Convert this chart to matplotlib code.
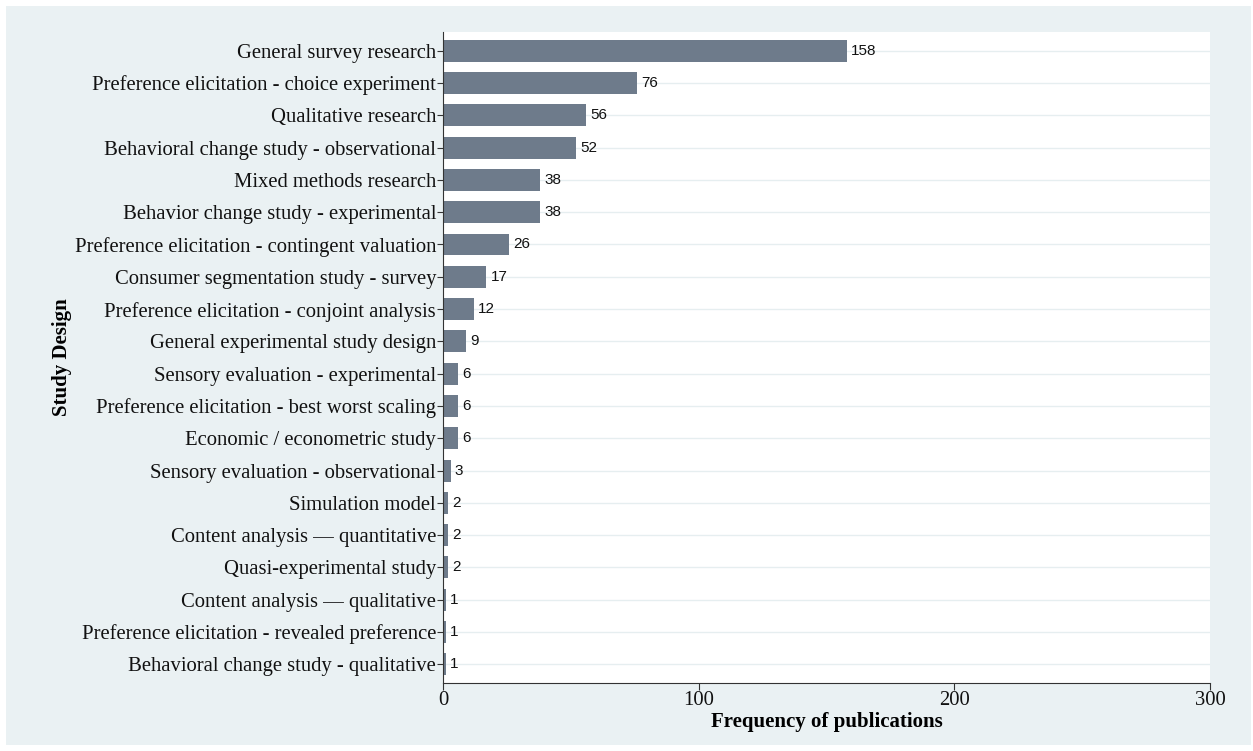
import matplotlib.pyplot as plt
import numpy as np
from matplotlib.patches import Rectangle

designs = [
    "General survey research",
    "Preference elicitation - choice experiment",
    "Qualitative research",
    "Behavioral change study - observational",
    "Mixed methods research",
    "Behavior change study - experimental",
    "Preference elicitation - contingent valuation",
    "Consumer segmentation study - survey",
    "Preference elicitation - conjoint analysis",
    "General experimental study design",
    "Sensory evaluation - experimental",
    "Preference elicitation - best worst scaling",
    "Economic / econometric study",
    "Sensory evaluation - observational",
    "Simulation model",
    "Content analysis \u2014 quantitative",
    "Quasi-experimental study",
    "Content analysis \u2014 qualitative",
    "Preference elicitation - revealed preference",
    "Behavioral change study - qualitative",
]
counts = [158, 76, 56, 52, 38, 38, 26, 17, 12, 9, 6, 6, 6, 3, 2, 2, 2, 1, 1, 1]

bg = '#eaf1f3'
bar_col = '#6e7b8b'
serif = 'Liberation Serif'

fig = plt.figure(figsize=(12.53, 7.51), dpi=100)
fig.patches.append(Rectangle((6/1253, 6/751), 1 - 8/1253, 1 - 12/751,
                             transform=fig.transFigure, facecolor=bg,
                             edgecolor='none', zorder=-1))
ax = fig.add_axes([443/1253, 1 - 683/751, 767/1253, 651/751])

y = np.arange(len(designs))
ax.barh(y, counts, height=0.68, color=bar_col, zorder=2)
for yi, c in zip(y, counts):
    ax.text(c + 1.6, yi, str(c), va='center', ha='left', fontsize=11,
            family='Liberation Sans', color='#111111')

ax.set_ylim(len(designs) - 0.42, -0.58)
ax.set_xlim(0, 300)
ax.set_yticks(y)
ax.set_yticklabels(designs, family=serif, fontsize=14.9)
ax.set_xticks([0, 100, 200, 300])
ax.set_xticklabels(['0', '100', '200', '300'], family=serif, fontsize=14.9)
ax.tick_params(axis='y', length=4, width=0.8, pad=1, colors='#333333', labelcolor='#111111')
ax.tick_params(axis='x', length=5, width=0.8, pad=1, colors='#333333', labelcolor='#111111')
ax.grid(axis='y', color='#e6eef0', linewidth=1, zorder=0)
ax.set_axisbelow(True)
for s in ['top', 'right']:
    ax.spines[s].set_visible(False)
ax.spines['left'].set_color('#333333')
ax.spines['bottom'].set_color('#333333')

ax.set_xlabel('Frequency of publications', family=serif, fontsize=15,
              fontweight='bold', labelpad=1)
fig.text(62/1253, 1 - 357/751, 'Study Design', rotation=90, va='center',
         ha='center', family=serif, fontsize=15, fontweight='bold')

fig.savefig('out.png', dpi=100)
